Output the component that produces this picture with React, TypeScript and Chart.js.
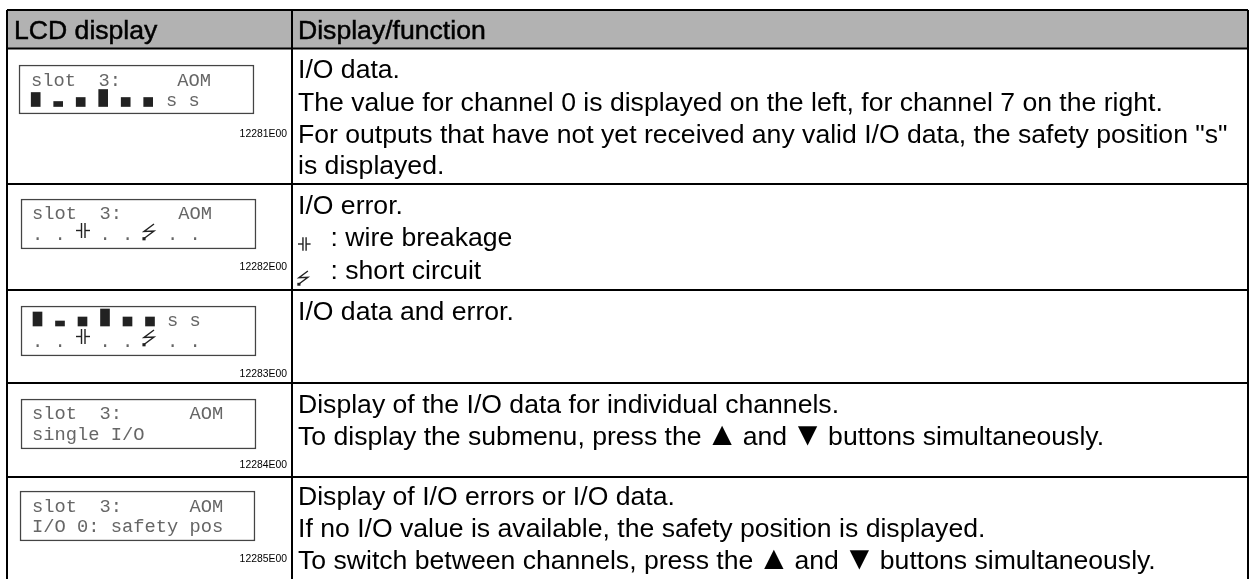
import React, { useEffect, useRef } from "react";
import { Chart, registerables } from "chart.js";

Chart.register(...registerables);

const WIDTH = 1251;
const HEIGHT = 579;

// ---- content ----
const headers = ["LCD display", "Display/function"];
const descriptionLines = [
  ["I/O data.", "The value for channel 0 is displayed on the left, for channel 7 on the right.", "For outputs that have not yet received any valid I/O data, the safety position \"s\"", "is displayed."],
  ["I/O error.", ": wire breakage", ": short circuit"],
  ["I/O data and error."],
  ["Display of the I/O data for individual channels.", "To display the submenu, press the ▲ and ▼ buttons simultaneously."],
  ["Display of I/O errors or I/O data.", "If no I/O value is available, the safety position is displayed.", "To switch between channels, press the ▲ and ▼ buttons simultaneously."],
];
const figureCodes = ["12281E00", "12282E00", "12283E00", "12284E00", "12285E00"];
const lcdTopLines = ["slot  3:     AOM", "slot  3:     AOM", "", "slot  3:      AOM", "slot  3:      AOM"];
const lcdBottomLines = ["", "", "", "single I/O", "I/O 0: safety pos"];
const errorDots = ". .   . .   . .";
const channelLevels = [14, 5, 9, 17, 9, 9];
const safetyMark = "s s";

// ---- layout ----
const tableLeft = 7;
const tableRight = 1248;
const columnSplit = 292;
const rowLines = [10, 48.5, 184, 290, 383, 477];
const lcdBoxes = [
  { l: 19, r: 254, t: 65, b: 114 },
  { l: 21, r: 256, t: 199, b: 249 },
  { l: 21, r: 256, t: 306, b: 356 },
  { l: 21, r: 256, t: 399, b: 449 },
  { l: 20, r: 255, t: 491, b: 541 },
];
const lcdTopBase = [85.5, 219, 326, 419, 512];
const lcdBottomBase = [106, 240, 347, 440, 532];
const lcdTextX = [31, 32, 32, 32, 32];
const levelBase = [106.5, 326];
const levelX = [35.7, 37.5];
const codeBase = [137, 270, 377, 468, 562];
const descBase = [[78, 111, 143, 174], [214, 246, 279], [320], [413, 444.5], [505, 537, 569]];
const descSize = 26.6;
const descX = 298;
const wireX = [76, 298];
const charPitch = 11.25;
const arrowAdvance = 26.3;
const arrowSize = 33;

function line(points: number[][], color = "#222", width = 1.4) {
  return {
    type: "line" as const,
    data: points.map(([x, y]) => ({ x, y })),
    borderColor: color,
    borderWidth: width,
    pointRadius: 0,
    tension: 0,
    fill: false,
    order: 0,
  };
}

function bar(x: number, y0: number, y1: number, thick: number, bg: string, border = "transparent", bw = 0, order = 2) {
  return {
    type: "bar" as const,
    data: [{ x, y: [y0, y1] }],
    backgroundColor: bg,
    borderColor: border,
    borderWidth: bw,
    borderSkipped: false,
    barThickness: thick,
    grouped: false,
    order,
  };
}

function wireGlyph(x: number, y: number, s: number) {
  return [
    line([[x, y], [x + 5.5 * s, y]]),
    line([[x + 5.5 * s, y - 7.5 * s], [x + 5.5 * s, y + 7.5 * s]]),
    line([[x + 9 * s, y - 7.5 * s], [x + 9 * s, y + 7.5 * s]]),
    line([[x + 9 * s, y], [x + 14 * s, y]]),
  ];
}

function boltGlyph(x: number, y: number, s: number) {
  return [
    line([[x + 11 * s, y], [x + 1 * s, y + 7.5 * s], [x + 11 * s, y + 7 * s], [x + 1 * s, y + 14.5 * s]]),
    bar(x + 1 * s, y + 13.5 * s, y + 16 * s, 2.5, "#222"),
  ];
}

function buildDatasets() {
  const ds: any[] = [];
  // header fill
  ds.push(bar((tableLeft + tableRight) / 2, rowLines[0], rowLines[1], tableRight - tableLeft, "#b2b2b2", "transparent", 0, 5));
  // lcd frames
  lcdBoxes.forEach((b) => {
    ds.push(bar((b.l + b.r) / 2, b.t, b.b, b.r - b.l, "#ffffff", "#444444", 1.5, 4));
  });
  // table grid
  rowLines.forEach((y) => ds.push(line([[tableLeft, y], [tableRight, y]], "#000", 2)));
  [tableLeft, columnSplit, tableRight].forEach((x) => ds.push(line([[x, rowLines[0]], [x, HEIGHT]], "#000", 2)));
  // channel level bars
  levelBase.forEach((base, k) => {
    channelLevels.forEach((level, ch) => {
      ds.push(bar(levelX[k] + ch * 2 * charPitch, base - level, base, 9, "#222", "transparent", 0, 1));
    });
  });
  // error glyphs
  ds.push(...wireGlyph(wireX[0], 230.5, 1));
  ds.push(...boltGlyph(143, 224, 1));
  ds.push(...wireGlyph(wireX[0], 336.5, 1));
  ds.push(...boltGlyph(143, 330, 1));
  ds.push(...wireGlyph(wireX[1], 244, 0.9));
  ds.push(...boltGlyph(298, 271, 0.9));
  return ds;
}

const tablePlugin = {
  id: "tableText",
  afterDatasetsDraw(chart: any) {
    const { ctx, scales } = chart;
    const px = (v: number) => scales.x.getPixelForValue(v);
    const py = (v: number) => scales.y.getPixelForValue(v);
    ctx.save();
    ctx.textBaseline = "alphabetic";
    ctx.textAlign = "left";
    const sans = '"Liberation Sans", Arial, sans-serif';
    const mono = '"Liberation Mono", monospace';

    ctx.fillStyle = "#000";
    ctx.strokeStyle = "#000";
    ctx.lineWidth = 0.5;
    ctx.font = `${descSize}px ${sans}`;
    ctx.fillText(headers[0], px(14), py(38.5));
    ctx.strokeText(headers[0], px(14), py(38.5));
    ctx.fillText(headers[1], px(298), py(38.5));
    ctx.strokeText(headers[1], px(298), py(38.5));

    const drawRich = (text: string, x0: number, y: number, size: number) => {
      let x = px(x0);
      text.split(/([▲▼])/).forEach((run) => {
        if (!run) return;
        if (run === "▲" || run === "▼") {
          ctx.font = `${arrowSize}px ${sans}`;
          ctx.textAlign = "center";
          ctx.fillText(run, x + arrowAdvance / 2, py(y));
          ctx.textAlign = "left";
          x += arrowAdvance;
        } else {
          ctx.font = `${size}px ${sans}`;
          ctx.fillText(run, x, py(y));
          x += ctx.measureText(run).width;
        }
      });
    };

    descriptionLines.forEach((lines, r) => {
      lines.forEach((text, i) => {
        drawRich(text, r === 1 && i > 0 ? 330.5 : descX, descBase[r][i], descSize);
      });
    });

    ctx.font = `10.4px ${sans}`;
    ctx.textAlign = "right";
    figureCodes.forEach((code, r) => ctx.fillText(code, px(287), py(codeBase[r])));
    ctx.textAlign = "left";

    ctx.font = `18.75px ${mono}`;
    ctx.fillStyle = "#666";
    lcdTopLines.forEach((t, r) => {
      if (t) ctx.fillText(t, px(lcdTextX[r]), py(lcdTopBase[r]));
    });
    lcdBottomLines.forEach((t, r) => {
      if (t) ctx.fillText(t, px(lcdTextX[r]), py(lcdBottomBase[r]));
    });
    ctx.fillText(errorDots, px(lcdTextX[1]), py(lcdBottomBase[1]));
    ctx.fillText(errorDots, px(lcdTextX[2]), py(lcdBottomBase[2]));
    ctx.fillText(safetyMark, px(lcdTextX[0] + 12 * charPitch), py(lcdBottomBase[0]));
    ctx.fillText(safetyMark, px(lcdTextX[2] + 12 * charPitch), py(lcdTopBase[2]));
    ctx.restore();
  },
};

export default function App() {
  const ref = useRef<HTMLCanvasElement | null>(null);
  useEffect(() => {
    const chart = new Chart(ref.current as HTMLCanvasElement, {
      type: "bar",
      data: { datasets: buildDatasets() },
      options: {
        animation: false,
        responsive: false,
        layout: { padding: 0 },
        plugins: { legend: { display: false }, tooltip: { enabled: false } },
        scales: {
          x: { type: "linear", min: 0, max: WIDTH, offset: false, display: false },
          y: { type: "linear", min: 0, max: HEIGHT, reverse: true, display: false },
        },
      },
      plugins: [tablePlugin],
    } as any);
    return () => chart.destroy();
  }, []);
  return (
    <div style={{ position: "fixed", left: 0, top: 0, width: WIDTH, height: HEIGHT, background: "#fff" }}>
      <canvas ref={ref} width={WIDTH} height={HEIGHT} style={{ display: "block" }} />
    </div>
  );
}
